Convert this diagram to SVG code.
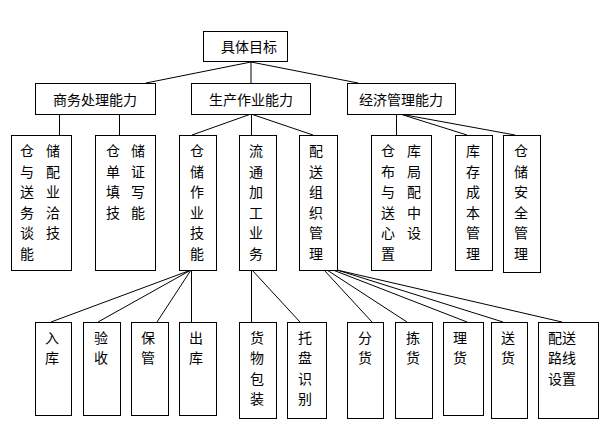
<svg xmlns="http://www.w3.org/2000/svg" width="602" height="437" viewBox="0 0 602 437">
<style>
.b{fill:#fff;stroke:#000;stroke-width:1}
.t{font-family:"Noto Sans CJK SC","Liberation Sans",sans-serif;font-size:14px;fill:#000;text-anchor:middle;dominant-baseline:central}
#connectors line{stroke:#000;stroke-width:1}
</style>
<rect width="602" height="437" fill="#fff"/>
<g id="connectors">
<line x1="251" y1="62" x2="146" y2="83"/>
<line x1="251" y1="62" x2="251" y2="83"/>
<line x1="251" y1="62" x2="358" y2="83"/>
<line x1="59.5" y1="114" x2="59.5" y2="135"/>
<line x1="119.5" y1="114" x2="119.5" y2="135"/>
<line x1="251" y1="114" x2="192" y2="135"/>
<line x1="251.5" y1="114" x2="251.5" y2="135"/>
<line x1="251" y1="114" x2="313" y2="135"/>
<line x1="396.5" y1="114" x2="396.5" y2="135"/>
<line x1="400" y1="114" x2="467" y2="135"/>
<line x1="400" y1="114" x2="515" y2="135"/>
<line x1="191" y1="270" x2="51" y2="322"/>
<line x1="191" y1="270" x2="98" y2="322"/>
<line x1="191" y1="270" x2="157" y2="322"/>
<line x1="191.5" y1="270" x2="191.5" y2="322"/>
<line x1="251.5" y1="270" x2="251.5" y2="322"/>
<line x1="252" y1="270" x2="300" y2="322"/>
<line x1="324" y1="270" x2="372" y2="322"/>
<line x1="327" y1="270" x2="407" y2="322"/>
<line x1="333" y1="270" x2="467" y2="322"/>
<line x1="337" y1="270" x2="503" y2="322"/>
<line x1="337" y1="270" x2="562" y2="322"/>
</g>
<g id="n-root"><rect class="b" x="203.5" y="31.5" width="84" height="30"/><text class="t" x="249" y="46">具体目标</text></g>
<g id="n-swcl"><rect class="b" x="35.5" y="83.5" width="120" height="31"/><text class="t" x="95" y="99">商务处理能力</text></g>
<g id="n-sczy"><rect class="b" x="191.5" y="83.5" width="119" height="31"/><text class="t" x="251" y="99">生产作业能力</text></g>
<g id="n-jjgl"><rect class="b" x="347.5" y="83.5" width="108" height="31"/><text class="t" x="401" y="99">经济管理能力</text></g>

<g id="n-a"><rect class="b" x="11.5" y="135.5" width="60" height="135"/>
<text class="t" x="27 53" y="150">仓储</text><text class="t" x="27 53" y="171">与配</text><text class="t" x="27 53" y="191">送业</text><text class="t" x="27 53" y="212">务洽</text><text class="t" x="27 53" y="232">谈技</text><text class="t" x="27" y="253">能</text></g>
<g id="n-b"><rect class="b" x="95.5" y="135.5" width="60" height="135"/>
<text class="t" x="113 138" y="150">仓储</text><text class="t" x="113 138" y="171">单证</text><text class="t" x="113 138" y="191">填写</text><text class="t" x="113 138" y="212">技能</text></g>
<g id="n-c"><rect class="b" x="179.5" y="135.5" width="37" height="135"/>
<text class="t" x="197" y="150">仓</text><text class="t" x="197" y="171">储</text><text class="t" x="197" y="191">作</text><text class="t" x="197" y="212">业</text><text class="t" x="197" y="232">技</text><text class="t" x="197" y="253">能</text></g>
<g id="n-d"><rect class="b" x="239.5" y="135.5" width="37" height="135"/>
<text class="t" x="256" y="150">流</text><text class="t" x="256" y="171">通</text><text class="t" x="256" y="191">加</text><text class="t" x="256" y="212">工</text><text class="t" x="256" y="232">业</text><text class="t" x="256" y="253">务</text></g>
<g id="n-e"><rect class="b" x="299.5" y="135.5" width="38" height="135"/>
<text class="t" x="316" y="150">配</text><text class="t" x="316" y="171">送</text><text class="t" x="316" y="191">组</text><text class="t" x="316" y="212">织</text><text class="t" x="316" y="232">管</text><text class="t" x="316" y="253">理</text></g>
<g id="n-f"><rect class="b" x="371.5" y="135.5" width="60" height="135"/>
<text class="t" x="388 414" y="150">仓库</text><text class="t" x="388 414" y="171">布局</text><text class="t" x="388 414" y="191">与配</text><text class="t" x="388 414" y="212">送中</text><text class="t" x="388 414" y="232">心设</text><text class="t" x="388" y="253">置</text></g>
<g id="n-g"><rect class="b" x="455.5" y="135.5" width="37" height="135"/>
<text class="t" x="473" y="150">库</text><text class="t" x="473" y="171">存</text><text class="t" x="473" y="191">成</text><text class="t" x="473" y="212">本</text><text class="t" x="473" y="232">管</text><text class="t" x="473" y="253">理</text></g>
<g id="n-h"><rect class="b" x="503.5" y="135.5" width="37" height="137"/>
<text class="t" x="521" y="150">仓</text><text class="t" x="521" y="171">储</text><text class="t" x="521" y="191">安</text><text class="t" x="521" y="212">全</text><text class="t" x="521" y="232">管</text><text class="t" x="521" y="253">理</text></g>

<g id="n-rk"><rect class="b" x="35.5" y="322.5" width="36" height="93"/><text class="t" x="52" y="337">入</text><text class="t" x="52" y="357">库</text></g>
<g id="n-ys"><rect class="b" x="83.5" y="322.5" width="37" height="93"/><text class="t" x="101" y="337">验</text><text class="t" x="101" y="357">收</text></g>
<g id="n-bg"><rect class="b" x="131.5" y="322.5" width="37" height="93"/><text class="t" x="148" y="337">保</text><text class="t" x="148" y="357">管</text></g>
<g id="n-ck"><rect class="b" x="179.5" y="322.5" width="37" height="93"/><text class="t" x="196" y="337">出</text><text class="t" x="196" y="357">库</text></g>
<g id="n-hwbz"><rect class="b" x="239.5" y="322.5" width="37" height="96"/><text class="t" x="257" y="337">货</text><text class="t" x="257" y="357">物</text><text class="t" x="257" y="378">包</text><text class="t" x="257" y="398">装</text></g>
<g id="n-tpsb"><rect class="b" x="287.5" y="322.5" width="39" height="96"/><text class="t" x="305" y="337">托</text><text class="t" x="305" y="357">盘</text><text class="t" x="305" y="378">识</text><text class="t" x="305" y="398">别</text></g>
<g id="n-fh"><rect class="b" x="347.5" y="322.5" width="36" height="96"/><text class="t" x="365" y="337">分</text><text class="t" x="365" y="357">货</text></g>
<g id="n-jh"><rect class="b" x="395.5" y="322.5" width="37" height="96"/><text class="t" x="413" y="337">拣</text><text class="t" x="413" y="357">货</text></g>
<g id="n-lh"><rect class="b" x="443.5" y="322.5" width="40" height="93"/><text class="t" x="460" y="337">理</text><text class="t" x="460" y="357">货</text></g>
<g id="n-sh"><rect class="b" x="491.5" y="322.5" width="36" height="96"/><text class="t" x="508" y="337">送</text><text class="t" x="508" y="357">货</text></g>
<g id="n-psl"><rect class="b" x="538.5" y="322.5" width="60" height="96"/><text class="t" x="562" y="337">配送</text><text class="t" x="562" y="357">路线</text><text class="t" x="562" y="378">设置</text></g>
</svg>
